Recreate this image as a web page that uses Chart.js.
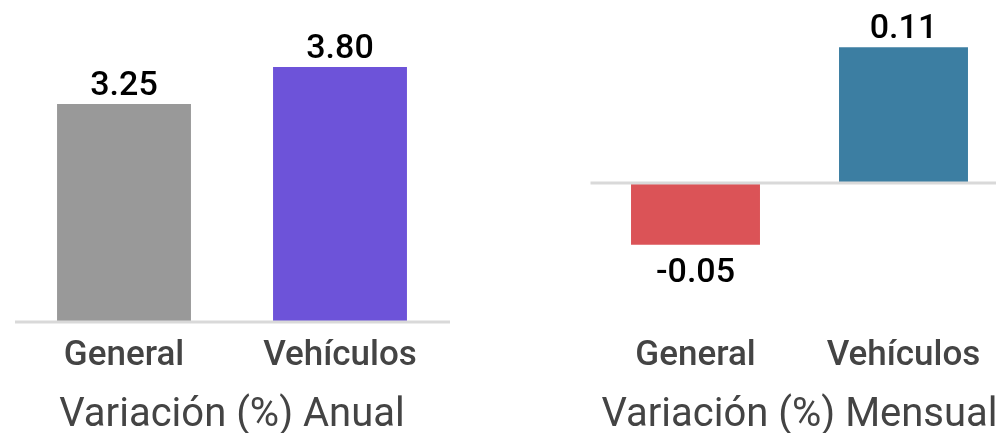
<!DOCTYPE html>
<html>
<head>
<meta charset="utf-8">
<script src="https://cdn.jsdelivr.net/npm/chart.js@4.4.1/dist/chart.umd.min.js"></script>
<style>
  html, body { margin: 0; padding: 0; background: #fff; overflow: hidden; }
  body { width: 996px; height: 433px; position: relative; }
  .panel { position: absolute; top: 0; height: 440px; }
  #panelAnual { left: 0; width: 466px; }
  #panelMensual { left: 576px; width: 450px; }
</style>
</head>
<body>
<div class="panel" id="panelAnual"><canvas id="chartAnual"></canvas></div>
<div class="panel" id="panelMensual"><canvas id="chartMensual"></canvas></div>
<script>
// Categorías y valores de variación
const categorias = ['General', 'Vehículos'];
const variacionAnual = [3.25, 3.80];
const variacionMensual = [-0.05, 0.11];
const coloresAnual = ['#999999', '#6d53d9'];
const coloresMensual = ['#db5357', '#3c7ea2'];

const FUENTE = 'Roboto';

// Línea del cero dibujada sobre las barras
const lineaCero = {
    id: 'lineaCero',
    afterDatasetsDraw(chart) {
        const { ctx, chartArea, scales } = chart;
        const y = scales.y.getPixelForValue(0);
        ctx.save();
        ctx.strokeStyle = '#d9d9d9';
        ctx.lineWidth = 3;
        ctx.beginPath();
        ctx.moveTo(chartArea.left - 1, y);
        ctx.lineTo(chartArea.right + 2, y);
        ctx.stroke();
        ctx.restore();
    }
};

// Etiquetas de valor encima (o debajo) de cada barra
const etiquetasValor = {
    id: 'etiquetasValor',
    afterDatasetsDraw(chart) {
        const { ctx } = chart;
        const meta = chart.getDatasetMeta(0);
        const valores = chart.data.datasets[0].data;
        ctx.save();
        ctx.font = '500 34px ' + FUENTE;
        ctx.fillStyle = '#000';
        ctx.textAlign = 'center';
        ctx.textBaseline = 'alphabetic';
        meta.data.forEach((bar, i) => {
            const v = valores[i];
            const y = v >= 0 ? bar.y - 9 : bar.y + 37;
            ctx.fillText(v.toFixed(2), bar.x, y);
        });
        ctx.restore();
    }
};

function crearGrafico(idCanvas, valores, colores, titulo, yMin, yMax, padIzq, padDer) {
    const canvas = document.getElementById(idCanvas);
    return new Chart(canvas, {
        type: 'bar',
        data: {
            labels: categorias,
            datasets: [{
                data: valores,
                backgroundColor: colores,
                borderWidth: 0,
                barPercentage: 0.62,
                categoryPercentage: 1
            }]
        },
        options: {
            responsive: true,
            maintainAspectRatio: false,
            animation: false,
            layout: { padding: { left: padIzq, right: padDer, top: 0, bottom: 0 } },
            plugins: {
                legend: { display: false },
                tooltip: { enabled: false }
            },
            scales: {
                y: { display: false, min: yMin, max: yMax },
                x: {
                    grid: { display: false, drawTicks: false },
                    border: { display: false },
                    ticks: {
                        color: '#444444',
                        padding: 13,
                        font: { family: FUENTE, size: 35, weight: '500' }
                    },
                    title: {
                        display: true,
                        text: titulo,
                        color: '#444444',
                        padding: { top: 0, bottom: 0 },
                        font: { family: FUENTE, size: 40, weight: '400' }
                    },
                    afterFit(scale) { scale.height = 118; }
                }
            }
        },
        plugins: [lineaCero, etiquetasValor]
    });
}

Promise.all([
    document.fonts.load('400 40px Roboto'),
    document.fonts.load('500 35px Roboto')
]).catch(() => {}).then(() => {
    crearGrafico('chartAnual', variacionAnual, coloresAnual, 'Variación (%) Anual', 0, 4.799, 16, 18);
    crearGrafico('chartMensual', variacionMensual, coloresMensual, 'Variación (%) Mensual', -0.1126, 0.1482, 15.5, 18.5);
});
</script>
</body>
</html>
